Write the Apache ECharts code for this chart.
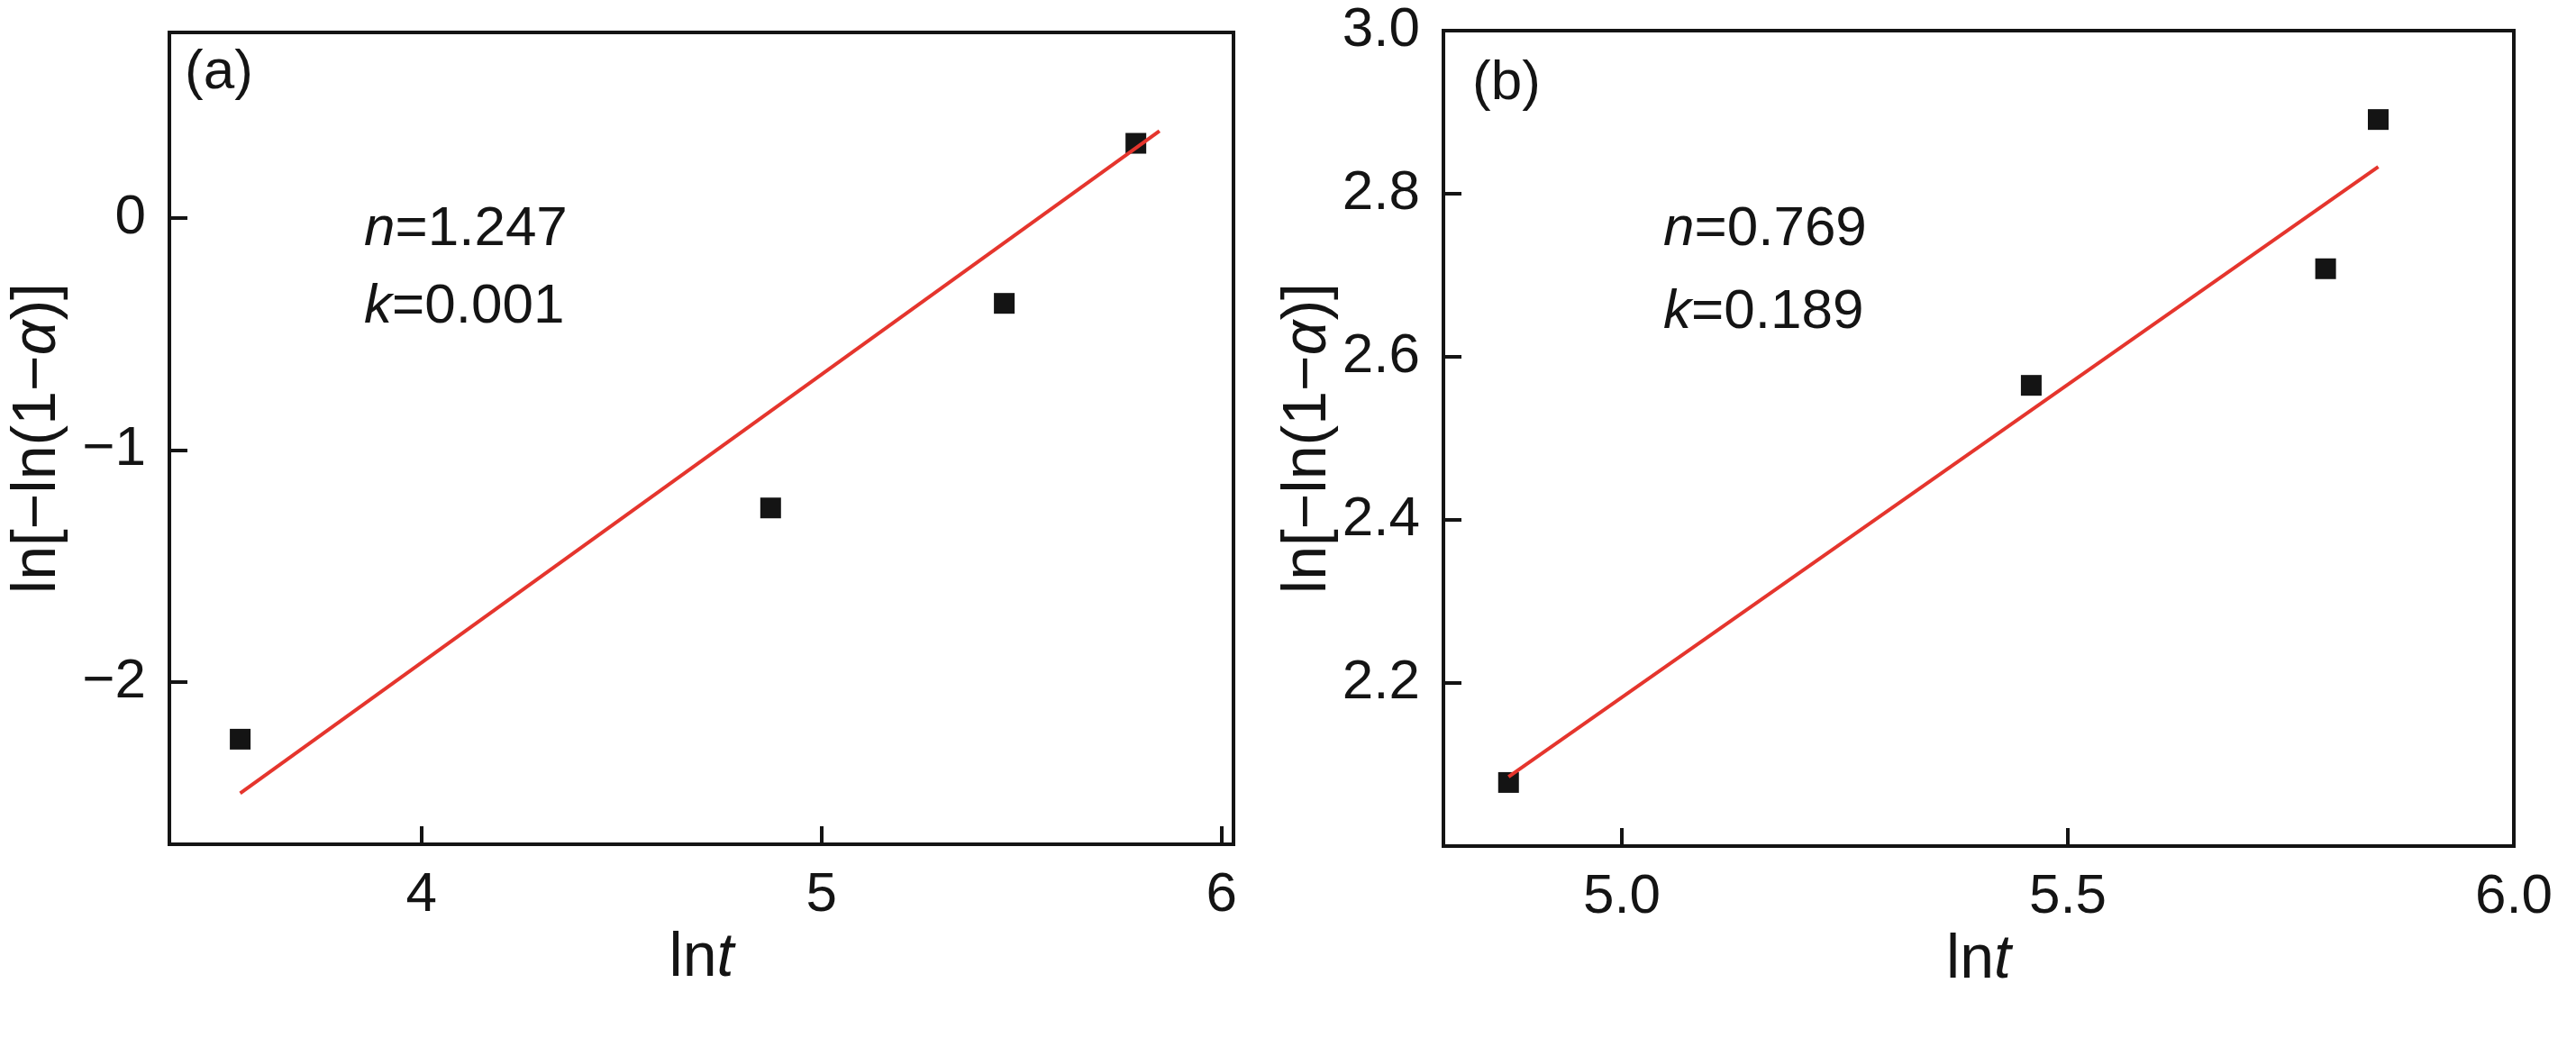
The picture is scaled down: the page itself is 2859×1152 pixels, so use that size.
<!DOCTYPE html>
<html>
<head>
<meta charset="utf-8">
<script src="https://cdn.jsdelivr.net/npm/echarts@6/dist/echarts.min.js"></script>
<style>
html,body{margin:0;padding:0;background:#fff;}
#c{width:2859px;height:1152px;}
</style>
</head>
<body>
<div id="c"></div>
<script>
// Panel (a)
const lnT_a = [3.547, 4.873, 5.457, 5.786];
const y_a   = [-2.247, -1.250, -0.368, 0.322];
const fitX_a = [3.547, 5.845];
const fitY_a = [-2.48, 0.375];
const xTicks_a = [4, 5, 6];
const yTicks_a = [-2, -1, 0];
// Panel (b)
const lnT_b = [4.873, 5.459, 5.789, 5.848];
const y_b   = [2.078, 2.565, 2.708, 2.891];
const fitX_b = [4.873, 5.848];
const fitY_b = [2.085, 2.833];
const xTicks_b = [5.0, 5.5, 6.0];
const yTicks_b = [2.2, 2.4, 2.6, 2.8, 3.0];
const labels_a = ['(a)', 'n=1.247', 'k=0.001'];
const labels_b = ['(b)', 'n=0.769', 'k=0.189'];

const FONT = '"Liberation Sans", Arial, Helvetica, sans-serif';
const INK = '#141414';
const RED = '#e5352d';
const TICK = 62;
const TITLE = 68;

function pairs(xs, ys){ return xs.map((x,i)=>[x, ys[i]]); }
function fmtA(v){ return v < 0 ? '\u2212' + Math.abs(v) : String(v); }
function fmtB(v){ return Number(v).toFixed(1); }

function xAxisCfg(idx, min, max, ticks, fmt){
  return {
    type:'value', gridIndex: idx, min, max,
    name: '{a|ln}{b|t}', nameLocation:'middle', nameGap: 56,
    nameTextStyle:{ rich:{
      a:{fontFamily:FONT, fontSize:TITLE, color:INK},
      b:{fontFamily:FONT, fontSize:TITLE, color:INK, fontStyle:'italic'} } },
    axisLine:{show:false, onZero:false},
    axisTick:{show:true, inside:true, length:20, lineStyle:{color:INK, width:4}, customValues: ticks},
    axisLabel:{show:true, margin:26, fontFamily:FONT, fontSize:TICK, color:INK, customValues: ticks, formatter: fmt},
    splitLine:{show:false}
  };
}
function yAxisCfg(idx, min, max, ticks, fmt, gap){
  return {
    type:'value', gridIndex: idx, min, max,
    name: '{a|ln[\u2212ln(1\u2212}{b|\u03b1}{a|)]}', nameLocation:'middle', nameGap: gap, nameRotate: 90,
    nameTextStyle:{ rich:{
      a:{fontFamily:FONT, fontSize:TITLE, color:INK},
      b:{fontFamily:FONT, fontSize:TITLE, color:INK, fontStyle:'italic'} } },
    axisLine:{show:false, onZero:false},
    axisTick:{show:true, inside:true, length:20, lineStyle:{color:INK, width:4}, customValues: ticks},
    axisLabel:{show:true, margin:26, fontFamily:FONT, fontSize:TICK, color:INK, customValues: ticks, formatter: fmt},
    splitLine:{show:false}
  };
}

function annot(left, top, parts){
  const rich = {i:{fontStyle:'italic', fontSize:TICK, fontFamily:FONT, fill:INK}, r:{fontSize:TICK, fontFamily:FONT, fill:INK}};
  const eq = s => '{i|' + s.split('=')[0] + '}{r|=' + s.split('=')[1] + '}';
  return [
    {type:'text', left: left[0], top: top[0], style:{text: parts[0], font: TICK + 'px ' + FONT, fill: INK}},
    {type:'text', left: left[1], top: top[1], style:{rich: rich, text: eq(parts[1])}},
    {type:'text', left: left[1], top: top[2], style:{rich: rich, text: eq(parts[2])}}
  ];
}

const chart = echarts.init(document.getElementById('c'), null, {renderer:'canvas'});
chart.setOption({
  backgroundColor:'#fff',
  animation:false,
  grid:[
    {left:188, top:36, width:1181, height:901, show:true, borderColor:INK, borderWidth:4, backgroundColor:'transparent'},
    {left:1602, top:34, width:1188, height:905, show:true, borderColor:INK, borderWidth:4, backgroundColor:'transparent'}
  ],
  xAxis:[
    xAxisCfg(0, 3.37, 6.03, xTicks_a, fmtA),
    xAxisCfg(1, 4.8, 6.0, xTicks_b, fmtB)
  ],
  yAxis:[
    yAxisCfg(0, -2.7, 0.8, yTicks_a, fmtA, 112),
    yAxisCfg(1, 2.0, 3.0, yTicks_b, fmtB, 116)
  ],
  series:[
    {type:'line', xAxisIndex:0, yAxisIndex:0, data: pairs(fitX_a, fitY_a), symbol:'none',
     lineStyle:{color:RED, width:4}, z:3},
    {type:'scatter', xAxisIndex:0, yAxisIndex:0, data: pairs(lnT_a, y_a), symbol:'rect', symbolSize:23,
     itemStyle:{color:INK, opacity:1}, z:2},
    {type:'line', xAxisIndex:1, yAxisIndex:1, data: pairs(fitX_b, fitY_b), symbol:'none',
     lineStyle:{color:RED, width:4}, z:3},
    {type:'scatter', xAxisIndex:1, yAxisIndex:1, data: pairs(lnT_b, y_b), symbol:'rect', symbolSize:23,
     itemStyle:{color:INK, opacity:1}, z:2}
  ],
  graphic: [].concat(
    annot([205, 404], [50, 224, 310], labels_a),
    annot([1634, 1846], [62, 224, 316], labels_b)
  )
});
</script>
</body>
</html>
